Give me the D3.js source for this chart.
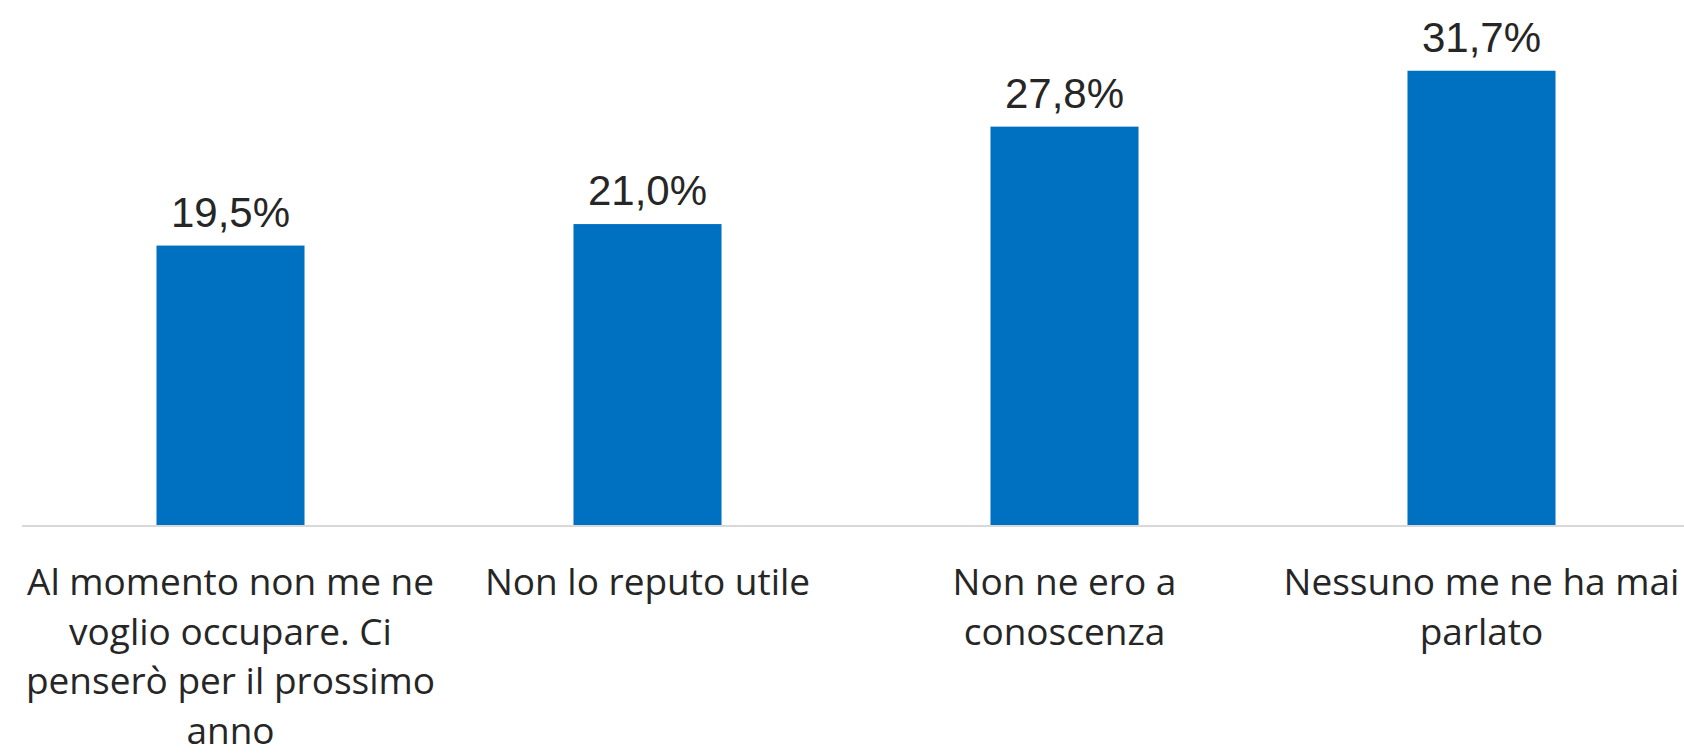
<!DOCTYPE html>
<html>
<head>
<meta charset="utf-8">
<script src="https://cdn.jsdelivr.net/npm/d3@7"></script>
<style>
	html, body { margin: 0; padding: 0; background: #fff; overflow: hidden; }
	svg { display: block; }
</style>
</head>
<body>
<svg id="chart"></svg>
<script>
// chart data
const categories = [
	"Al momento non me ne\nvoglio occupare. Ci\npenserò per il prossimo\nanno",
	"Non lo reputo utile",
	"Non ne ero a\nconoscenza",
	"Nessuno me ne ha mai\nparlato"
];
const values = [19.5, 21.0, 27.8, 31.7];

const width = 1684, height = 753;
const barColor = "#0070c0", textColor = "#262626";

const svg = d3.select("#chart")
	.attr("width", width)
	.attr("height", height);

const baseY = 525;

const x = d3.scaleBand()
	.domain(categories)
	.range([22, 1690])
	.padding(0);

const y = d3.scaleLinear()
	.domain([0, 35])
	.range([baseY, baseY - 35 * 14.33]);

const barW = x.bandwidth() * 0.355;
const fmt = v => d3.format(".1f")(v).replace(".", ",") + "%";

// bars
svg.selectAll("rect.bar")
	.data(values)
	.enter()
	.append("rect")
	.attr("class", "bar")
	.attr("x", (d, i) => x(categories[i]) + (x.bandwidth() - barW) / 2)
	.attr("y", d => y(d))
	.attr("width", barW)
	.attr("height", d => y(0) - y(d))
	.style("fill", barColor);

// baseline
svg.append("line")
	.attr("x1", 22)
	.attr("x2", width)
	.attr("y1", y(0) + 1)
	.attr("y2", y(0) + 1)
	.style("stroke", "#d9d9d9")
	.style("stroke-width", 2);

// value labels
svg.selectAll("text.value")
	.data(values)
	.enter()
	.append("text")
	.attr("class", "value")
	.attr("x", (d, i) => x(categories[i]) + x.bandwidth() / 2)
	.attr("y", d => y(d) - 19)
	.attr("text-anchor", "middle")
	.style("font-family", "'Liberation Sans', Arial, sans-serif")
	.style("font-size", "42px")
	.style("fill", textColor)
	.text(fmt);

// category labels
const cat = svg.selectAll("text.cat")
	.data(categories)
	.enter()
	.append("text")
	.attr("class", "cat")
	.attr("x", d => x(d) + x.bandwidth() / 2)
	.attr("y", 595)
	.attr("text-anchor", "middle")
	.style("font-family", "'Open Sans', 'Noto Sans', sans-serif")
	.style("font-size", "37px")
	.style("fill", textColor);

cat.selectAll("tspan")
	.data(d => d.split("\n").map(line => ({ line, cx: x(d) + x.bandwidth() / 2 })))
	.enter()
	.append("tspan")
	.attr("x", d => d.cx)
	.attr("dy", (d, i) => i === 0 ? 0 : 49.5)
	.text(d => d.line);
</script>
</body>
</html>
